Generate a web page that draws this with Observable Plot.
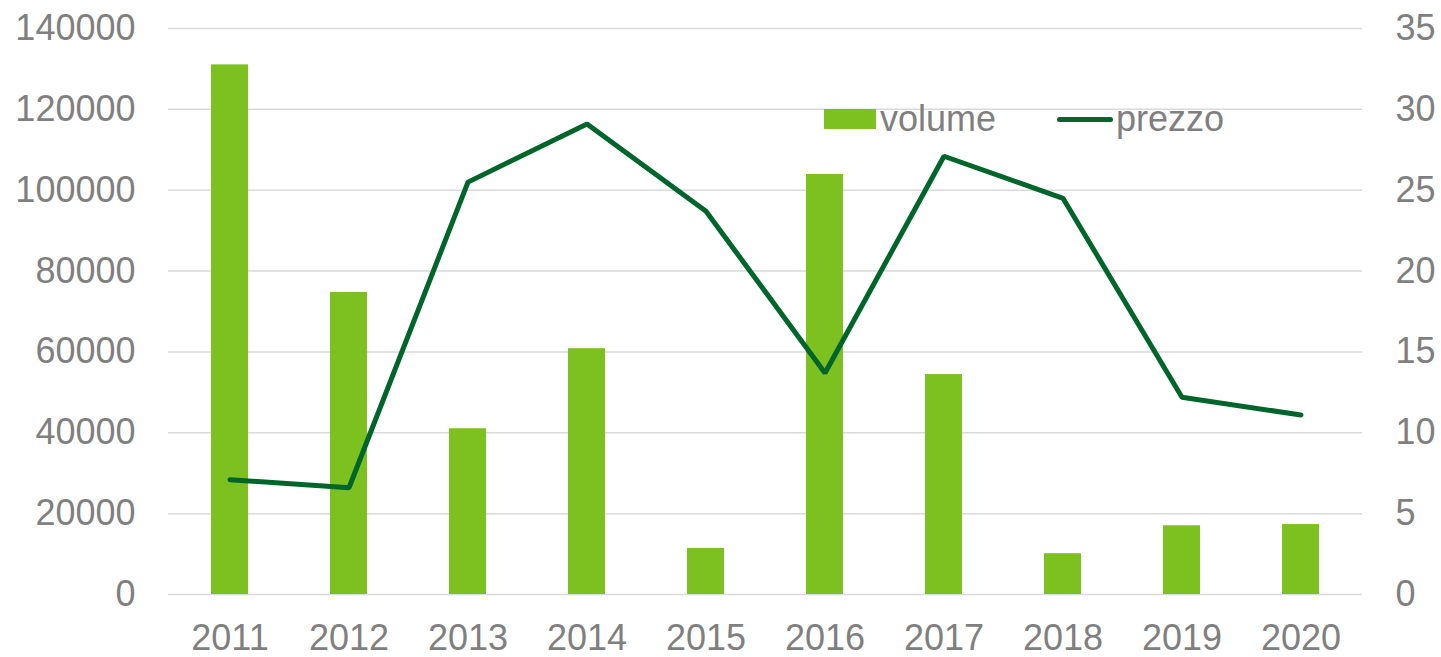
<!DOCTYPE html>
<html>
<head>
<meta charset="utf-8">
<script src="https://cdn.jsdelivr.net/npm/d3@7"></script>
<script src="https://cdn.jsdelivr.net/npm/@observablehq/plot@0.6"></script>
<style>
  html, body { margin: 0; padding: 0; background: #fff; }
  #wrap { position: relative; width: 1441px; height: 657px; font-family: "Liberation Sans", Arial, sans-serif; }
  #legend { position: absolute; left: 824px; top: 98px; display: flex; align-items: center; font-size: 36px; color: #7f7f7f; }
  .sw-bar { width: 52px; height: 20px; background: #7cc11f; margin-right: 4px; }
  .sw-line { width: 56px; height: 5px; border-radius: 3px; background: #00652a; margin-left: 61px; margin-right: 3px; }
</style>
</head>
<body>
<div id="wrap"><div id="legend"><div class="sw-bar"></div><span>volume</span><div class="sw-line"></div><span>prezzo</span></div></div>
<script>
const years = ["2011","2012","2013","2014","2015","2016","2017","2018","2019","2020"];
const volume = [131000, 74700, 41000, 60800, 11400, 103900, 54400, 10100, 17000, 17300];
const prezzo = [7.1, 6.6, 25.5, 29.1, 23.7, 13.7, 27.1, 24.5, 12.2, 11.1];
const volumeTicks = [0, 20000, 40000, 60000, 80000, 100000, 120000, 140000];
const prezzoTicks = [0, 5, 10, 15, 20, 25, 30, 35];

const ratio = 140000 / 35;
const data = years.map((y, i) => ({year: y, volume: volume[i], prezzo: prezzo[i], p: prezzo[i] * ratio}));

const chart = Plot.plot({
  width: 1441,
  height: 657,
  marginLeft: 168,
  marginRight: 79,
  marginTop: 28,
  marginBottom: 63,
  style: {fontFamily: "'Liberation Sans', Arial, sans-serif", fontSize: "36px", color: "#7f7f7f", background: "white"},
  x: {domain: years, paddingInner: 0.69, paddingOuter: 0.345, label: null},
  y: {domain: [0, 140000], label: null},
  marks: [
    Plot.gridY(volumeTicks, {stroke: "#d9d9d9", strokeWidth: 1.5, strokeOpacity: 1}),
    Plot.barY(data, {x: "year", y: "volume", fill: "#7cc11f"}),
    Plot.line(data, {x: "year", y: "p", stroke: "#00652a", strokeWidth: 5, strokeLinejoin: "miter", strokeLinecap: "round"}),
    Plot.axisY(volumeTicks, {anchor: "left", tickSize: 0, tickPadding: 33, label: null, tickFormat: d => String(d), fill: "#7f7f7f", fontSize: 36}),
    Plot.axisY(prezzoTicks.map(t => t * ratio), {anchor: "right", tickSize: 0, tickPadding: 33, label: null, tickFormat: d => String(d / ratio), fill: "#7f7f7f", fontSize: 36}),
    Plot.axisX({tickSize: 0, tickPadding: 30, label: null, fill: "#7f7f7f", fontSize: 36})
  ]
});
document.getElementById("wrap").prepend(chart);
</script>
</body>
</html>
